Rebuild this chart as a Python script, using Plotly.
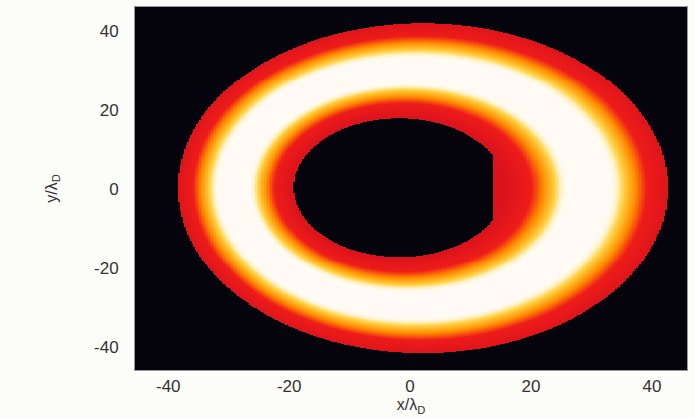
import numpy as np
import plotly.graph_objects as go

# --- values ---
# radial profile across the ring: fraction s (0 = inner edge, 1 = outer edge) -> intensity level
ring_s = [0.0, 0.16, 0.23, 0.30, 0.37, 0.65, 0.72, 0.80, 0.87, 1.0]
ring_level = [0.32, 0.45, 0.60, 0.78, 1.0, 1.0, 0.80, 0.60, 0.45, 0.35]

inner_center = [-1.8, 0.35]
inner_radius = [17.5, 17.5]      # x, y radii
hole_cut_x = [13.7]              # flat right side of the hole
outer_center = [2.1, 0.25]
outer_radius = [40.5, 41.6]      # x, y radii
outer_cut_x = [42.6]

x_ticks = [-40, -20, 0, 20, 40]
x_tick_text = ["-40", "-20", "0", "20", "40"]
y_ticks = [-40, -20, 0, 20, 40]
y_tick_text = ["-40", "-20", "0", "20", "40"]

x_range = [-45.5, 45.8]
y_range = [-45.7, 46.0]

# --- build the image grid from the profile ---
step = 0.25
xs = np.arange(x_range[0], x_range[1] + step, step)
ys = np.arange(y_range[0], y_range[1] + step, step)
X, Y = np.meshgrid(xs, ys)

rin = np.mean(inner_radius)
rout = np.mean(outer_radius)
d_in = np.hypot((X - inner_center[0]) / inner_radius[0], (Y - inner_center[1]) / inner_radius[1]) * rin
d_out = np.hypot((X - outer_center[0]) / outer_radius[0], (Y - outer_center[1]) / outer_radius[1]) * rout

a = np.clip(d_in - rin, 0, None)
b = rout - d_out
s = a / np.maximum(a + b, 1e-9)
Z = np.interp(s, ring_s, ring_level)
hole = (d_in < rin) & (X < hole_cut_x[0])
outside = (d_out > rout) | (X > outer_cut_x[0])
Z[hole] = 0.0
Z[outside] = 0.0

colorscale = [
    [0.0, "#05040c"], [0.30, "#05040c"], [0.31, "#d8121c"], [0.45, "#ee1c1a"],
    [0.60, "#ff8c00"], [0.78, "#ffcf3e"], [0.90, "#fff2c6"], [1.0, "#fffbf4"],
]

fig = go.Figure(
    go.Heatmap(
        x=xs, y=ys, z=Z, zmin=0, zmax=1, colorscale=colorscale,
        showscale=False, zsmooth=False, hoverinfo="skip",
    )
)

font = dict(family="Liberation Sans, Arial, sans-serif", size=17, color="#333333")
title_font = dict(family="Liberation Sans, Arial, sans-serif", size=16, color="#333333")
fig.update_layout(
    width=695, height=418,
    margin=dict(l=135, r=8, t=7, b=48),
    paper_bgcolor="#fcfcf9",
    plot_bgcolor="#05040c",
    font=font,
)
fig.update_xaxes(
    range=x_range, tickvals=x_ticks, ticktext=x_tick_text, showgrid=False,
    zeroline=False, ticks="", ticklabelstandoff=1,
    title=dict(text="x/λ<sub>D</sub>", standoff=3, font=title_font),
    showline=True, linecolor="#999999", linewidth=1, mirror=True,
)
fig.update_yaxes(
    range=y_range, tickvals=y_ticks, ticktext=y_tick_text, showgrid=False,
    zeroline=False, ticks="", ticklabelstandoff=12,
    title=dict(text="y/λ<sub>D</sub>", standoff=32, font=title_font),
    showline=True, linecolor="#999999", linewidth=1, mirror=True,
)

fig.write_html("out.html")
